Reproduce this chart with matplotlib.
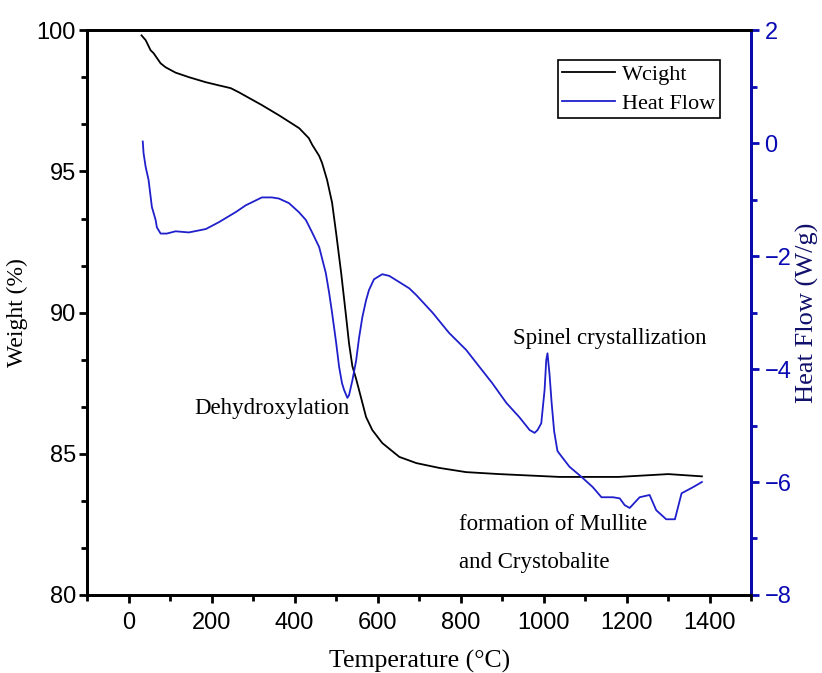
import matplotlib
matplotlib.use('Agg')
import matplotlib.pyplot as plt
from matplotlib.ticker import MultipleLocator, AutoMinorLocator

# weight curve (TGA)
temp_w = [31, 41, 53, 60, 77, 89, 113, 145, 186, 217, 246, 266, 321, 362, 393, 411,
          434, 442, 459, 466, 478, 490, 500, 512, 524, 531, 539, 548, 555, 572, 587,
          611, 652, 693, 748, 813, 893, 1038, 1180, 1300, 1381]
weight = [99.82, 99.65, 99.29, 99.19, 98.83, 98.69, 98.5, 98.34, 98.16, 98.05, 97.95, 97.8,
          97.35, 96.99, 96.7, 96.53, 96.18, 95.95, 95.55, 95.3, 94.7, 93.9, 92.8, 91.4,
          89.84, 88.9, 88.1, 87.65, 87.26, 86.3, 85.84, 85.38, 84.89, 84.67, 84.5, 84.35,
          84.28, 84.18, 84.18, 84.28, 84.2]

# heat flow curve (DSC)
temp_h = [34, 36, 41, 48, 56, 65, 68, 77, 92, 113, 145, 186, 217, 258, 282, 321, 345, 362,
          386, 410, 427, 442, 459, 475, 483, 490, 500, 507, 514, 519, 527, 531, 539, 548,
          555, 563, 572, 579, 591, 611, 628, 652, 676, 693, 732, 772, 813, 845, 876, 910,
          941, 966, 978, 985, 994, 1002, 1006, 1009, 1014, 1019, 1025, 1033, 1040, 1062,
          1091, 1118, 1139, 1167, 1183, 1195, 1207, 1231, 1255, 1271, 1295, 1316, 1332,
          1360, 1381]
heat = [0.03, -0.18, -0.42, -0.65, -1.13, -1.36, -1.49, -1.6, -1.6, -1.56, -1.58, -1.52,
        -1.4, -1.22, -1.1, -0.96, -0.96, -0.98, -1.06, -1.22, -1.36, -1.58, -1.84, -2.3,
        -2.65, -3.0, -3.54, -3.96, -4.25, -4.37, -4.51, -4.46, -4.2, -3.85, -3.45, -3.08,
        -2.78, -2.6, -2.41, -2.32, -2.35, -2.46, -2.57, -2.69, -3.0, -3.36, -3.66, -3.96,
        -4.25, -4.6, -4.85, -5.08, -5.13, -5.08, -4.96, -4.37, -3.84, -3.72, -4.1, -4.6,
        -5.1, -5.45, -5.52, -5.73, -5.91, -6.09, -6.27, -6.27, -6.29, -6.41, -6.46, -6.27,
        -6.23, -6.5, -6.66, -6.66, -6.2, -6.09, -6.0]

blue = '#1f1fcc'
axblue = '#0a0ab4'
serif = ['Liberation Serif', 'DejaVu Serif']
sans = ['Liberation Sans', 'DejaVu Sans']

fig = plt.figure(figsize=(8.22, 6.73), dpi=100)
ax = fig.add_axes([0.106, 0.116, 0.808, 0.839])
ax2 = ax.twinx()

l1, = ax.plot(temp_w, weight, color='black', lw=1.3, label='Wcight')
l2, = ax2.plot(temp_h, heat, color=blue, lw=1.3, label='Heat Flow')

ax.set_xlim(-100, 1500)
ax.set_ylim(80, 100)
ax2.set_ylim(-8, 2)

ax.xaxis.set_major_locator(MultipleLocator(200))
ax.xaxis.set_minor_locator(MultipleLocator(100))
ax.yaxis.set_major_locator(MultipleLocator(5))
ax.yaxis.set_minor_locator(AutoMinorLocator(3))
ax2.yaxis.set_major_locator(MultipleLocator(2))
ax2.yaxis.set_minor_locator(MultipleLocator(1))

for s in ax.spines.values():
    s.set_linewidth(2)
for s in ax2.spines.values():
    s.set_linewidth(2)
ax2.spines['right'].set_color(axblue)

ax.tick_params(which='both', direction='out', width=2, top=False)
ax.tick_params(which='major', length=6)
ax.tick_params(which='minor', length=4)
ax.tick_params(axis='y', pad=2)
ax.tick_params(axis='x', pad=6)
ax2.tick_params(which='both', direction='out', width=2, colors=axblue)
ax2.tick_params(which='major', length=6)
ax2.tick_params(which='minor', length=4)

for lab in ax.get_xticklabels() + ax.get_yticklabels():
    lab.set_family(sans)
    lab.set_fontsize(17)
for lab in ax2.get_yticklabels():
    lab.set_family(sans)
    lab.set_fontsize(17)
    lab.set_color(axblue)

ax.set_xlabel('Temperature (°C)', family=serif, fontsize=18.5, labelpad=12)
ax.set_ylabel('Weight (%)', family=serif, fontsize=17, labelpad=6)
ax2.set_ylabel('Heat Flow (W/g)', family=serif, fontsize=19, color='#10106a', labelpad=3)

ax.text(157, 86.6, 'Dehydroxylation', family=serif, fontsize=16.5, va='center')
ax.text(925, 89.1, 'Spinel crystallization', family=serif, fontsize=16.5, va='center')
ax.text(797, 82.5, 'formation of Mullite', family=serif, fontsize=16.5, va='center')
ax.text(797, 81.15, 'and Crystobalite', family=serif, fontsize=16.5, va='center')

leg = ax.legend(handles=[l1, l2], loc='upper right', bbox_to_anchor=(0.953, 0.947),
                frameon=True, fancybox=False, edgecolor='black', framealpha=1,
                prop={'family': serif, 'size': 16}, handlelength=2.35,
                borderpad=0.2, labelspacing=0.35, handletextpad=0.35, borderaxespad=0)
leg.get_frame().set_linewidth(1.2)

fig.savefig('out.png', dpi=100)
